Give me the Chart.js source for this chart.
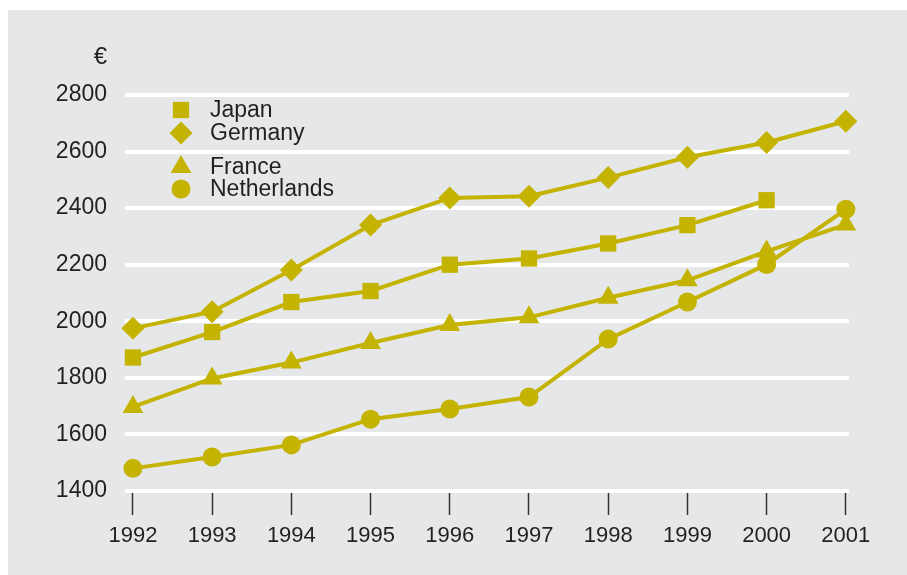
<!DOCTYPE html>
<html lang="en">
<head>
<meta charset="UTF-8">
<title>Average earnings 1992-2001</title>
<script src="https://cdn.jsdelivr.net/npm/chart.js@4/dist/chart.umd.min.js"></script>
<style>
    body {
        margin: 0;
        background: #ffffff;
        font-family: Arial, "Liberation Sans", sans-serif;
    }
    #wrap {
        width: 907px;
        height: 575px;
    }
</style>
</head>
<body>
<div id="wrap"><canvas id="earnings" width="907" height="575"></canvas></div>

<script>
// values in euro, one per year
const years = [1992, 1993, 1994, 1995, 1996, 1997, 1998, 1999, 2000, 2001];
const japan = [1872, 1962, 2068, 2107, 2200, 2222, 2275, 2340, 2428, null];
const germany = [1975, 2034, 2181, 2340, 2436, 2442, 2508, 2580, 2632, 2707];
const france = [1697, 1798, 1854, 1923, 1987, 2014, 2083, 2145, 2247, 2342];
const netherlands = [1480, 1520, 1563, 1654, 1690, 1732, 1937, 2068, 2201, 2396];
const yTicks = [1400, 1600, 1800, 2000, 2200, 2400, 2600, 2800];

const olive = '#c4b300';
const panel = '#e6e7e8';
const textColor = '#231f20';

function series(label, values, style, radius) {
    return {
        label: label,
        data: years.map((y, i) => ({ x: y, y: values[i] })),
        borderColor: olive,
        backgroundColor: olive,
        borderWidth: 4,
        pointStyle: style,
        pointRadius: radius,
        pointHoverRadius: radius,
        pointBorderWidth: 0,
        clip: false
    };
}

// gray panel behind everything
const panelBg = {
    id: 'panelBg',
    beforeDraw(chart) {
        const ctx = chart.ctx;
        ctx.save();
        ctx.fillStyle = panel;
        ctx.fillRect(8, 10, chart.width - 8, chart.height - 10);
        ctx.restore();
    }
};

// legend with uneven row spacing + the euro unit label
const keyRows = [110, 133, 167, 189];
const markerLegend = {
    id: 'markerLegend',
    afterDraw(chart) {
        const ctx = chart.ctx;
        ctx.save();
        chart.data.datasets.forEach((ds, i) => {
            ctx.fillStyle = olive;
            ctx.strokeStyle = olive;
            Chart.helpers.drawPoint(ctx, {
                pointStyle: ds.pointStyle,
                radius: ds.pointRadius,
                rotation: 0,
                borderWidth: 0
            }, 181, keyRows[i]);
            ctx.fillStyle = textColor;
            ctx.font = '23px Arial, "Liberation Sans", sans-serif';
            ctx.textAlign = 'left';
            ctx.textBaseline = 'middle';
            ctx.fillText(ds.label, 210, keyRows[i] + 1);
        });
        ctx.textAlign = 'right';
        ctx.font = '24px Arial, "Liberation Sans", sans-serif';
        ctx.fillText('€', 107, 57);
        ctx.restore();
    }
};

new Chart(document.getElementById('earnings'), {
    type: 'line',
    data: {
        datasets: [
            series('Japan', japan, 'rect', 11.5),
            series('Germany', germany, 'rectRot', 11.5),
            series('France', france, 'triangle', 12),
            series('Netherlands', netherlands, 'circle', 9.5)
        ]
    },
    options: {
        responsive: false,
        animation: false,
        events: [],
        layout: { padding: { left: 0, right: 58, top: 95, bottom: 0 } },
        plugins: {
            legend: { display: false },
            tooltip: { enabled: false }
        },
        scales: {
            x: {
                type: 'linear',
                min: 1991.9,
                max: 2001.04,
                afterBuildTicks: s => { s.ticks = years.map(v => ({ value: v })); },
                afterFit: s => { s.height = 84; },
                border: { display: false },
                grid: {
                    drawOnChartArea: false,
                    drawTicks: true,
                    tickLength: 24,
                    tickColor: '#333333',
                    tickWidth: 1.5
                },
                ticks: {
                    color: textColor,
                    padding: 8,
                    maxRotation: 0,
                    autoSkip: false,
                    font: { family: 'Arial, "Liberation Sans", sans-serif', size: 22 },
                    callback: v => String(v)
                }
            },
            y: {
                min: 1400,
                max: 2800,
                afterBuildTicks: s => { s.ticks = yTicks.map(v => ({ value: v })); },
                afterFit: s => { s.width = 125; },
                border: { display: false },
                grid: {
                    color: '#ffffff',
                    lineWidth: 4,
                    drawTicks: false
                },
                ticks: {
                    color: textColor,
                    padding: 18,
                    font: { family: 'Arial, "Liberation Sans", sans-serif', size: 23 },
                    callback: v => String(v)
                }
            }
        }
    },
    plugins: [panelBg, markerLegend]
});
</script>
</body>
</html>
